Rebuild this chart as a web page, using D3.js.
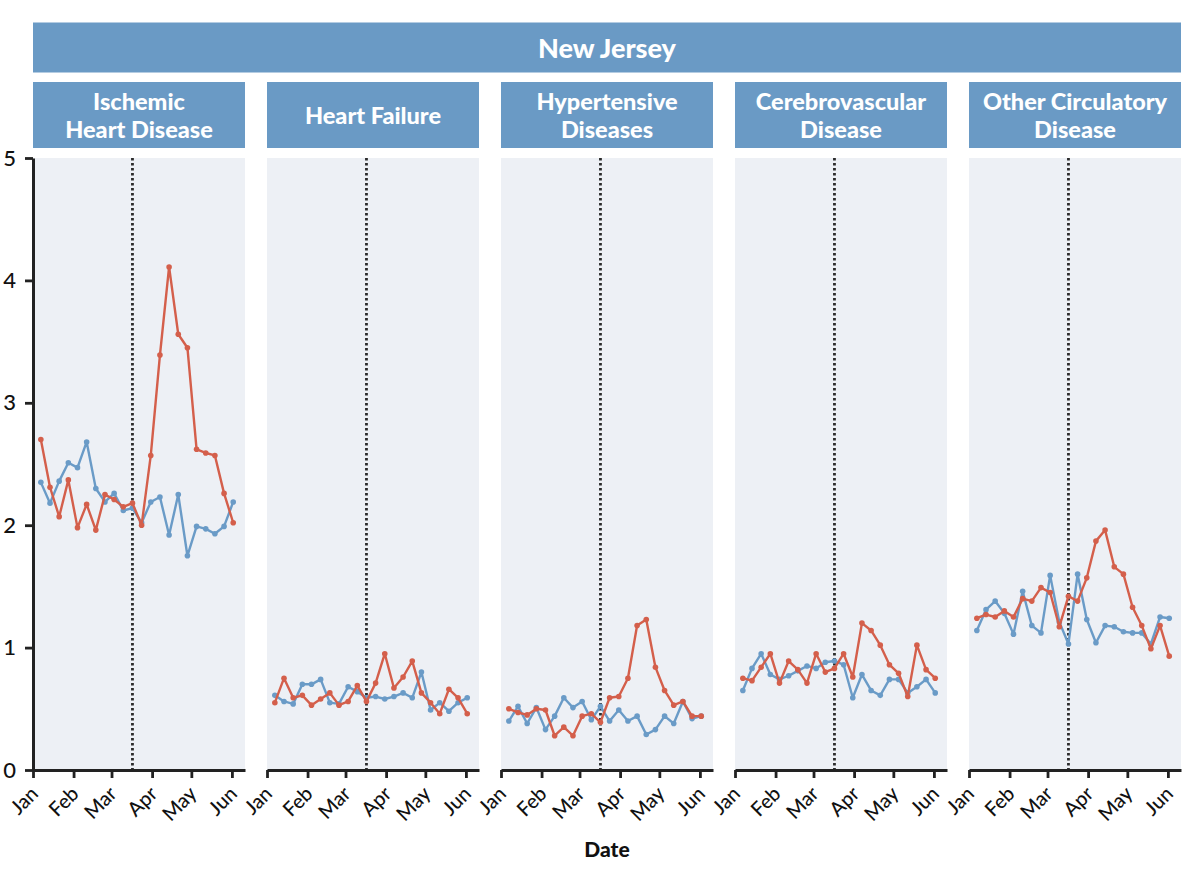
<!DOCTYPE html>
<html>
<head>
<meta charset="utf-8">
<script src="https://cdn.jsdelivr.net/npm/d3@7"></script>
<style>
  html, body { margin: 0; padding: 0; background: #ffffff; }
  svg { display: block; font-family: Lato, "Open Sans", sans-serif; }
</style>
</head>
<body>
<svg id="chart" width="1200" height="881"></svg>
<script>
// ---- Data ----
const stateName = "New Jersey";
const categories = [
  ["Ischemic", "Heart Disease"],
  ["Heart Failure"],
  ["Hypertensive", "Diseases"],
  ["Cerebrovascular", "Disease"],
  ["Other Circulatory", "Disease"]
];
const weekDates = [
  "2020-01-07","2020-01-14","2020-01-21","2020-01-28",
  "2020-02-04","2020-02-11","2020-02-18","2020-02-25",
  "2020-03-03","2020-03-10","2020-03-17","2020-03-24","2020-03-31",
  "2020-04-07","2020-04-14","2020-04-21","2020-04-28",
  "2020-05-05","2020-05-12","2020-05-19","2020-05-26","2020-06-02"
];
const markerDate = "2020-03-17";
const monthTicks = ["2020-01-01","2020-02-01","2020-03-01","2020-04-01","2020-05-01","2020-06-01"];
const monthLabels = ["Jan","Feb","Mar","Apr","May","Jun"];
const yTicks = [0, 1, 2, 3, 4, 5];

// red series (2020)
const ischemic2020 = [2.70,2.31,2.07,2.37,1.98,2.17,1.96,2.25,2.21,2.15,2.18,2.00,2.57,3.39,4.11,3.56,3.45,2.62,2.59,2.57,2.26,2.02];
const heartFailure2020 = [0.55,0.75,0.59,0.61,0.53,0.58,0.63,0.53,0.56,0.69,0.56,0.71,0.95,0.67,0.76,0.89,0.63,0.55,0.46,0.66,0.59,0.46];
const hypertensive2020 = [0.50,0.47,0.45,0.50,0.49,0.28,0.35,0.28,0.44,0.46,0.39,0.59,0.60,0.75,1.18,1.23,0.84,0.65,0.53,0.56,0.44,0.44];
const cerebro2020 = [0.75,0.73,0.84,0.95,0.71,0.89,0.82,0.71,0.95,0.80,0.83,0.95,0.76,1.20,1.14,1.02,0.86,0.79,0.60,1.02,0.82,0.75];
const otherCirc2020 = [1.24,1.27,1.25,1.30,1.25,1.40,1.38,1.49,1.45,1.17,1.42,1.38,1.57,1.87,1.96,1.66,1.60,1.33,1.18,0.99,1.18,0.93];

// blue series (comparison period)
const ischemicBase = [2.35,2.18,2.36,2.51,2.47,2.68,2.30,2.19,2.26,2.12,2.14,2.02,2.19,2.23,1.92,2.25,1.75,1.99,1.97,1.93,1.99,2.19];
const heartFailureBase = [0.61,0.56,0.54,0.70,0.70,0.74,0.55,0.54,0.68,0.64,0.59,0.60,0.58,0.60,0.63,0.59,0.80,0.49,0.55,0.48,0.55,0.59];
const hypertensiveBase = [0.40,0.52,0.38,0.51,0.33,0.44,0.59,0.51,0.56,0.41,0.52,0.40,0.49,0.40,0.44,0.29,0.33,0.44,0.38,0.56,0.42,0.44];
const cerebroBase = [0.65,0.83,0.95,0.78,0.74,0.77,0.81,0.85,0.83,0.88,0.89,0.86,0.59,0.78,0.65,0.61,0.74,0.74,0.63,0.68,0.74,0.63];
const otherCircBase = [1.14,1.31,1.38,1.28,1.11,1.46,1.18,1.12,1.59,1.21,1.03,1.60,1.23,1.04,1.18,1.17,1.13,1.12,1.12,1.03,1.25,1.24];

const redSeries = [ischemic2020, heartFailure2020, hypertensive2020, cerebro2020, otherCirc2020];
const blueSeries = [ischemicBase, heartFailureBase, hypertensiveBase, cerebroBase, otherCircBase];

// ---- Styles ----
const stripColor = "#6a9ac5";
const panelBg = "#edf0f5";
const redColor = "#d45f4b";
const blueColor = "#6a9bc7";

const parse = d3.timeParse("%Y-%m-%d");
const dates = weekDates.map(parse);

const svg = d3.select("#chart");
const panelLeft0 = 33, panelW = 212, panelGap = 22;
const plotTop = 158, plotBottom = 770;

const x = d3.scaleTime()
  .domain([parse("2020-01-01"), parse("2020-06-11")])
  .range([0, panelW]);
const y = d3.scaleLinear().domain([0, 5]).range([plotBottom, plotTop]);

// Banner
const bannerRight = panelLeft0 + 5 * panelW + 4 * panelGap;
svg.append("rect")
  .attr("x", panelLeft0).attr("y", 22.5)
  .attr("width", bannerRight - panelLeft0).attr("height", 50)
  .attr("fill", stripColor);
svg.append("text")
  .attr("x", (panelLeft0 + bannerRight) / 2).attr("y", 47.5)
  .attr("text-anchor", "middle").attr("dominant-baseline", "central")
  .attr("fill", "#fff").attr("font-weight", 900).attr("font-size", 27)
  .text(stateName);

const line = d3.line().x((d, i) => x(dates[i])).y(d => y(d));

categories.forEach((cat, p) => {
  const left = panelLeft0 + p * (panelW + panelGap);
  const g = svg.append("g").attr("transform", `translate(${left},0)`);

  // strip
  g.append("rect").attr("x", 0).attr("y", 82).attr("width", panelW).attr("height", 66)
    .attr("fill", stripColor);
  const st = g.append("text").attr("text-anchor", "middle")
    .attr("fill", "#fff").attr("font-weight", 900).attr("font-size", 23.5);
  if (cat.length === 1) {
    st.append("tspan").attr("x", panelW / 2).attr("y", 115).attr("dominant-baseline", "central").text(cat[0]);
  } else {
    st.append("tspan").attr("x", panelW / 2).attr("y", 100.5).attr("dominant-baseline", "central").text(cat[0]);
    st.append("tspan").attr("x", panelW / 2).attr("y", 128.5).attr("dominant-baseline", "central").text(cat[1]);
  }

  // panel background
  g.append("rect").attr("x", 0).attr("y", plotTop).attr("width", panelW)
    .attr("height", plotBottom - plotTop).attr("fill", panelBg);

  // marker line
  g.append("line")
    .attr("x1", x(parse(markerDate))).attr("x2", x(parse(markerDate)))
    .attr("y1", plotTop).attr("y2", plotBottom)
    .attr("stroke", "#2b2b2b").attr("stroke-width", 2.8).attr("stroke-dasharray", "2.5,2.5");

  // series
  [[blueSeries[p], blueColor], [redSeries[p], redColor]].forEach(([vals, col]) => {
    g.append("path").datum(vals).attr("d", line)
      .attr("fill", "none").attr("stroke", col).attr("stroke-width", 2.4)
      .attr("stroke-linejoin", "round");
    g.selectAll(null).data(vals).enter().append("circle")
      .attr("cx", (d, i) => x(dates[i])).attr("cy", d => y(d))
      .attr("r", 2.8).attr("fill", col);
  });

  // x axis
  const xAxis = d3.axisBottom(x)
    .tickValues(monthTicks.map(parse))
    .tickFormat((d, i) => monthLabels[i])
    .tickSize(8).tickSizeOuter(0);
  const xa = g.append("g").attr("transform", `translate(0,${plotBottom})`).call(xAxis);
  xa.select(".domain").attr("stroke", "#222").attr("stroke-width", 3);
  xa.selectAll(".tick line").attr("stroke", "#222").attr("stroke-width", 2.8);
  xa.selectAll(".tick text")
    .attr("font-family", "Lato, sans-serif").attr("font-size", 20).attr("font-weight", 500)
    .attr("fill", "#111")
    .attr("text-anchor", "end").attr("dy", null).attr("y", 0).attr("x", 0)
    .attr("transform", "translate(6,25) rotate(-45)");

  // y axis only on first panel
  if (p === 0) {
    const yAxis = d3.axisLeft(y).tickValues(yTicks).tickFormat(d3.format("d"))
      .tickSize(8).tickSizeOuter(0);
    const ya = g.append("g").call(yAxis);
    ya.select(".domain").attr("stroke", "#222").attr("stroke-width", 3);
    ya.selectAll(".tick line").attr("stroke", "#222").attr("stroke-width", 2.8);
    ya.selectAll(".tick text")
      .attr("font-family", "Lato, sans-serif").attr("font-size", 22).attr("font-weight", 500)
      .attr("fill", "#111")
      .attr("x", -17);
  }
});

// x title
svg.append("text")
  .attr("x", (panelLeft0 + bannerRight) / 2).attr("y", 848)
  .attr("text-anchor", "middle").attr("dominant-baseline", "central")
  .attr("font-weight", 900).attr("font-size", 21).attr("fill", "#111")
  .text("Date");
</script>
</body>
</html>
